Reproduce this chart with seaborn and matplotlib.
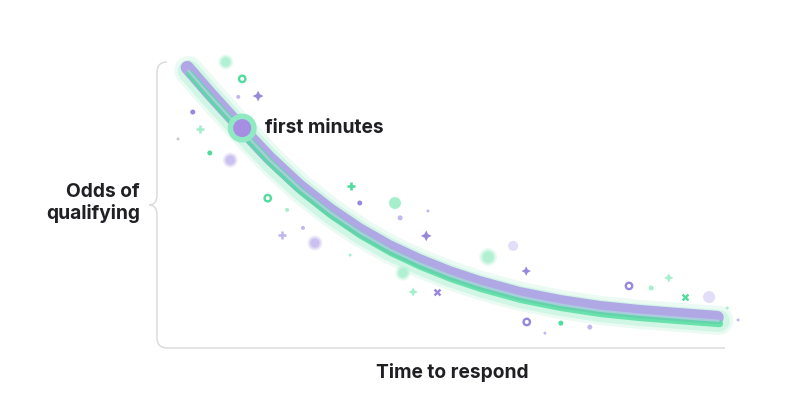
import numpy as np
import pandas as pd
import matplotlib
matplotlib.use("Agg")
import matplotlib.pyplot as plt
from matplotlib.path import Path
from matplotlib.patches import PathPatch
import matplotlib.transforms as mtransforms
import seaborn as sns

# ---- data (time and odds on a 0-100 scale) ----
curve_time = [5.5, 9.3, 14.6, 19.9, 25.2, 30.5, 35.7, 41.0, 46.3, 51.6, 56.9, 63.9, 71.0, 78.0, 85.0, 92.1, 98.8]
curve_odds = [97.2, 88.5, 76.9, 65.7, 55.9, 47.6, 40.6, 34.6, 29.7, 25.5, 22.0, 18.2, 15.4, 13.3, 11.9, 10.8, 9.8]

highlight_time = [15.0]
highlight_odds = [76.9]
highlight_label = "first minutes"

# decorative sparkles: time, odds, kind, colour, size
spark_time = [12.1, 15.0, 17.8, 14.3, 6.3, 7.6, 3.7, 9.3, 12.9, 19.5, 22.9, 22.0, 25.7, 27.8,
              34.2, 35.7, 41.9, 42.8, 47.7, 47.4, 34.0, 43.3, 58.3, 62.7, 65.0, 45.1, 49.3,
              65.1, 71.1, 68.3, 76.2, 83.1, 87.0, 90.1, 93.0, 97.2, 100.4, 102.3]
spark_odds = [100.0, 94.1, 88.1, 87.8, 82.5, 76.6, 73.1, 68.2, 65.7, 52.4, 48.3, 39.5, 42.0, 36.7,
              56.6, 50.7, 50.7, 45.5, 47.9, 39.2, 32.5, 26.2, 31.8, 35.7, 26.9, 19.6, 19.6,
              9.1, 8.7, 5.2, 7.3, 21.7, 21.0, 24.5, 17.8, 17.8, 14.0, 9.8]
spark_kind = ["blur", "ring", "star", "dot", "dot", "plus", "dot", "dot", "blur", "ring", "dot", "plus", "dot", "blur",
              "plus", "dot", "dot", "dot", "dot", "star", "dot", "blur", "blur", "dot", "star", "star", "x",
              "ring", "dot", "dot", "dot", "ring", "dot", "star", "x", "dot", "dot", "dot"]
spark_color = ["lgreen", "green", "purple", "lpurple", "purple", "lgreen", "gray", "green", "lpurple", "green", "lgreen", "lpurple", "lpurple", "lpurple",
               "green", "purple", "lgreen", "lpurple", "lpurple", "purple", "lgreen", "lgreen", "lgreen", "llpurple", "purple", "lgreen", "purple",
               "purple", "green", "lpurple", "lpurple", "purple", "lgreen", "lgreen", "green", "llpurple", "lgreen", "lpurple"]
spark_size = [10, 8, 8, 4, 5, 8, 3, 5, 10, 8, 4, 7, 4, 10,
              7, 5, 12, 5, 3, 8, 3, 10, 12, 10, 7, 7, 7,
              8, 5, 3, 5, 8, 5, 7, 7, 12, 3, 3]

palette = {"purple": "#9887dc", "lpurple": "#c3b8ee", "llpurple": "#e2ddf8",
           "green": "#4fdc9c", "lgreen": "#a6efcc", "gray": "#c9c6d6"}

sns.set_theme(style="white")
plt.rcParams["font.family"] = ["Inter", "DejaVu Sans"]

fig = plt.figure(figsize=(8, 4.2), dpi=100)
fig.patch.set_facecolor("white")
ax = fig.add_axes([157 / 800, 72 / 420, 568 / 800, 286 / 420])
ax.set_xlim(0, 100)
ax.set_ylim(0, 100)
ax.axis("off")

df = pd.DataFrame({"time": curve_time, "odds": curve_odds})

def band(lw, color, alpha, dx=0.0, dy=0.0, z=3):
    sns.lineplot(data=df, x="time", y="odds", ax=ax, color=color, linewidth=lw,
                 alpha=alpha, solid_capstyle="round", solid_joinstyle="round",
                 legend=False, zorder=z)
    ln = ax.lines[-1]
    ln.set_transform(mtransforms.offset_copy(ax.transData, fig=fig, x=dx, y=dy, units="dots"))
    ln.set_clip_on(False)

# glow
band(21, "#c8f5e0", 0.35, 0.5, -0.5, 2)
band(16, "#a3eecb", 0.35, 0.5, -1, 2)
# purple strand
band(9.5, "#a99be6", 0.85, -1.0, 2.5, 3)
# green strand
band(5.0, "#52dd9f", 0.82, 1.5, -3.8, 4)
# light inner stripe
band(1.8, "#b9cfe6", 0.75, 0.3, -0.8, 5)

# sparkles
q = 0.33
sparkle = Path([(0, 1), (q, q), (1, 0), (q, -q), (0, -1), (-q, -q), (-1, 0), (-q, q), (0, 1)],
               [Path.MOVETO] + [Path.LINETO] * 7 + [Path.CLOSEPOLY])
sp = pd.DataFrame({"time": spark_time, "odds": spark_odds, "kind": spark_kind,
                   "col": spark_color, "size": spark_size})
for _, r in sp.iterrows():
    c = palette[r["col"]]
    d = r["size"] * 0.72
    one = pd.DataFrame({"time": [r["time"]], "odds": [r["odds"]]})
    if r["kind"] == "dot":
        sns.scatterplot(data=one, x="time", y="odds", ax=ax, s=d ** 2, color=c, edgecolor="none", zorder=6, clip_on=False)
    elif r["kind"] == "blur":
        for k, a in [(1.5, 0.25), (1.2, 0.4), (0.9, 0.7)]:
            sns.scatterplot(data=one, x="time", y="odds", ax=ax, s=(d * k) ** 2, color=c, edgecolor="none", alpha=a, zorder=6, clip_on=False)
    elif r["kind"] == "ring":
        sns.scatterplot(data=one, x="time", y="odds", ax=ax, s=(d * 0.8) ** 2, facecolor="none", edgecolor=c, linewidth=1.7, zorder=6, clip_on=False)
    elif r["kind"] == "star":
        sns.scatterplot(data=one, x="time", y="odds", ax=ax, s=(d * 1.35) ** 2, marker=sparkle, color=c, edgecolor="none", zorder=6, clip_on=False)
    elif r["kind"] == "plus":
        sns.scatterplot(data=one, x="time", y="odds", ax=ax, s=(d * 1.1) ** 2, marker="+", color=c, linewidth=1.9, zorder=6, clip_on=False)
    elif r["kind"] == "x":
        sns.scatterplot(data=one, x="time", y="odds", ax=ax, s=(d * 0.85) ** 2, marker="x", color=c, linewidth=1.7, zorder=6, clip_on=False)

# highlight
hl = pd.DataFrame({"time": highlight_time, "odds": highlight_odds})
sns.scatterplot(data=hl, x="time", y="odds", ax=ax, s=(29 * 0.72) ** 2, color="#8fe9c3", edgecolor="none", zorder=8, clip_on=False)
sns.scatterplot(data=hl, x="time", y="odds", ax=ax, s=(18 * 0.72) ** 2, color="#a68fe3", edgecolor="none", zorder=9, clip_on=False)
ax.annotate(highlight_label, (highlight_time[0], highlight_odds[0]), xytext=(16.5, 0), textcoords="offset points",
            ha="left", va="center", fontsize=13.8, fontweight="bold", color="#1f1f24", zorder=10)

# brace axis
dx, dy = 5 / 568, 5 / 286
tip = 8 / 568
verts = [(2 * dx, 1), (0, 1), (0, 1 - 2 * dy), (0, 0.5 + 2 * dy), (0, 0.5), (-tip, 0.5),
         (0, 0.5), (0, 0.5 - 2 * dy), (0, 2 * dy), (0, 0), (2 * dx, 0), (1.0, 0)]
codes = [Path.MOVETO, Path.CURVE3, Path.CURVE3, Path.LINETO, Path.CURVE3, Path.CURVE3,
         Path.CURVE3, Path.CURVE3, Path.LINETO, Path.CURVE3, Path.CURVE3, Path.LINETO]
ax.add_patch(PathPatch(Path(verts, codes), transform=ax.transAxes, facecolor="none",
                       edgecolor="#dcdcdc", linewidth=1.1, clip_on=False, zorder=1))

fig.text(140 / 800, 1 - 203 / 420, "Odds of\nqualifying", ha="right", va="center",
         fontsize=13.8, fontweight="bold", color="#1f1f24", linespacing=1.2)
fig.text(452 / 800, 1 - 372 / 420, "Time to respond", ha="center", va="center",
         fontsize=13.8, fontweight="bold", color="#1f1f24")

fig.savefig("out.png", dpi=100, facecolor="white")
